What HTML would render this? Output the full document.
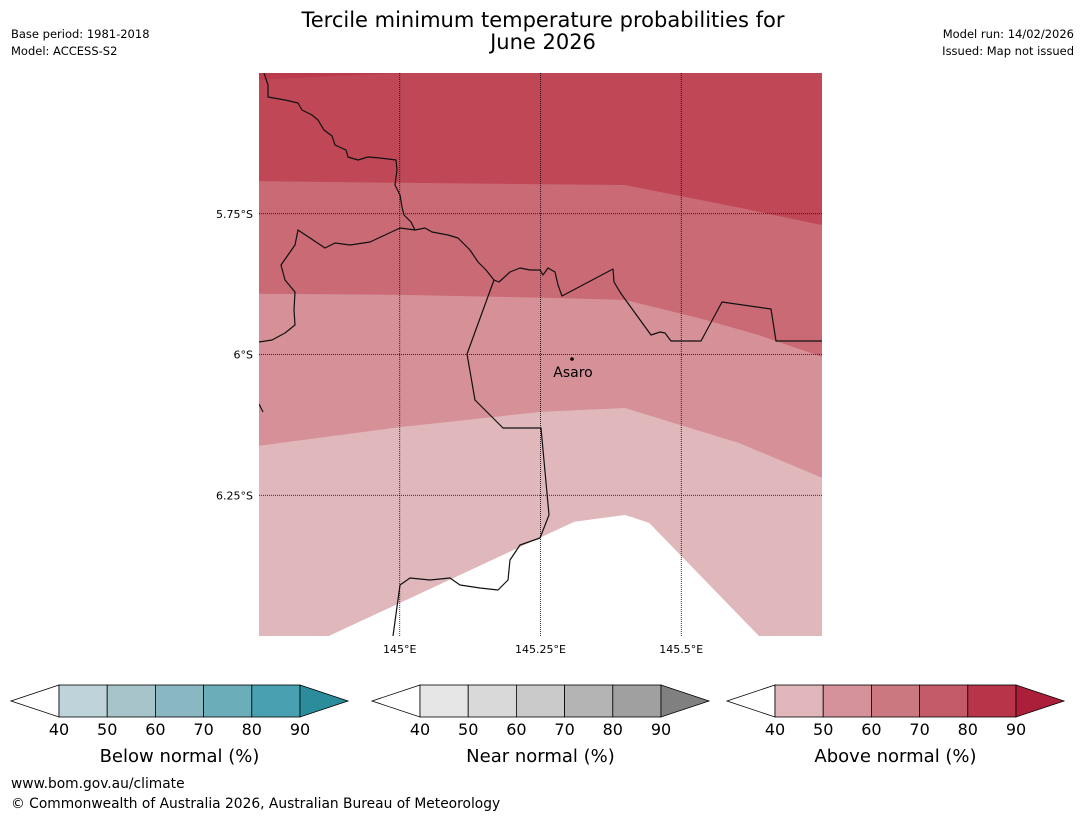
<!DOCTYPE html>
<html><head><meta charset="utf-8"><style>
body{margin:0;background:#fff;font-family:"Liberation Sans","DejaVu Sans",sans-serif;}
svg{display:block}
</style></head><body>
<svg id="chart" width="1085" height="816" viewBox="0 0 1085 816" xmlns="http://www.w3.org/2000/svg" font-family="DejaVu Sans, Liberation Sans, sans-serif">
<text x="543" y="27" text-anchor="middle" font-size="21">Tercile minimum temperature probabilities for</text>
<text x="543" y="49" text-anchor="middle" font-size="21">June 2026</text>
<text x="11" y="38" font-size="11.5">Base period: 1981-2018</text>
<text x="11" y="55" font-size="11.5">Model: ACCESS-S2</text>
<text x="1074" y="38" font-size="11.5" text-anchor="end">Model run: 14/02/2026</text>
<text x="1074" y="55" font-size="11.5" text-anchor="end">Issued: Map not issued</text>
<defs><clipPath id="mapclip"><rect x="259" y="73" width="563" height="563"/></clipPath></defs>
<g id="map" clip-path="url(#mapclip)"></g>
<g id="grid"></g>
<g id="bars"></g>
<text x="11" y="788" font-size="13.8">www.bom.gov.au/climate</text>
<text x="11" y="808" font-size="13.8">© Commonwealth of Australia 2026, Australian Bureau of Meteorology</text>
</svg>
<script>
// Map extent
const lonMin = 144.75, lonMax = 145.75, latTop = -5.5, latBot = -6.5;
const lonTicks = [145, 145.25, 145.5];
const lonTickLabels = ["145°E", "145.25°E", "145.5°E"];
const latTicks = [-5.75, -6, -6.25];
const latTickLabels = ["5.75°S", "6°S", "6.25°S"];
// Contour boundaries (lon, lat)
const b80Lon = [144.75, 145.0, 145.4, 145.602, 145.75];
const b80Lat = [-5.692, -5.695, -5.699, -5.739, -5.770];
const b70Lon = [144.75, 145.0, 145.25, 145.4, 145.53, 145.636, 145.75];
const b70Lat = [-5.892, -5.894, -5.899, -5.903, -5.935, -5.965, -6.004];
const b60Lon = [144.75, 145.0, 145.25, 145.4, 145.602, 145.75];
const b60Lat = [-6.162, -6.129, -6.102, -6.095, -6.157, -6.219];
const b50Lon = [144.874, 145.31, 145.4, 145.443, 145.638];
const b50Lat = [-6.5, -6.297, -6.285, -6.299, -6.5];
const b90Lon = [144.75, 145.0];
const b90Lat = [-5.512, -5.5];
const bandColors = ["#e0b8bc", "#d69097", "#c96a74", "#bf4756", "#bb3a4b"];
const sx = lon => 259 + (lon - lonMin) / (lonMax - lonMin) * 563;
const sy = lat => 73 + (latTop - lat) / (latTop - latBot) * 563;
const NS = "http://www.w3.org/2000/svg";
function mk(tag, attrs, parent){const e=document.createElementNS(NS,tag);for(const k in attrs)e.setAttribute(k,attrs[k]);parent.appendChild(e);return e;}
const map = document.getElementById('map');
function line(lons, lats){return lons.map((l,i)=>sx(l)+','+sy(lats[i])).join(' ');}
let bg = mk('rect',{x:259,y:73,width:563,height:563,fill:'#fff'},map);


let p = mk('polygon',{points:`259,73 822,73 822,636 ${line(b50Lon.slice().reverse(), b50Lat.slice().reverse())} 259,636`,fill:bandColors[0]},map);


const bounds = [[b60Lon,b60Lat],[b70Lon,b70Lat],[b80Lon,b80Lat],[b90Lon,b90Lat]];
const names = ['band-50-60','band-60-70','band-70-80','band-80-90'];
bounds.forEach((b,i)=>{
  let pts2;
  if(i===3) pts2 = `259,73 ${line(b[0], b[1])}`;
  else pts2 = `259,73 822,73 ` + line(b[0].slice().reverse(), b[1].slice().reverse());
  const el = mk('polygon',{points:pts2,fill:bandColors[i+1]},map);
  
  
});
const borderPaths = [
 "264,73 268,85 268,97 285,100 298,103 302,110 312,115 318,120 324,130 332,136 335,145 346,150 348,157 358,160 368,157 380,158 396,160 397,170 395,185 400,195 402,207 404,215 411,222 415,230 425,228 432,232 448,235 458,238 470,250 478,262 486,270 494,280 499,282 510,272 520,268 530,270 540,270 543,275 548,268 555,272 558,285 562,296 613,269 614,282 620,292 622,295 651,335 660,332 665,333 671,341 701,341 722,302 771,309 776,341 822,341",
 "415,230 400,228 385,235 370,242 350,245 335,243 325,248 310,238 298,230 295,245 288,255 281,265 285,280 295,292 294,310 295,325 285,333 272,340 259,342",
 "494,280 467,354 475,400 503,428 541,428 549,515 540,538 520,545 510,560 508,580 498,590 480,588 460,585 450,578 430,580 410,578 400,585 393,636",
 "259,404 263,412"];
borderPaths.forEach((d,i)=>{
  const el = mk('polyline',{points:d,fill:'none',stroke:'#111','stroke-width':1.2,'stroke-linejoin':'round'},map);
  
  
});
const grid = document.getElementById('grid');
lonTicks.forEach((l,i)=>{
  const g = mk('line',{x1:sx(l),x2:sx(l),y1:73,y2:636,stroke:'#000','stroke-width':0.8,'stroke-dasharray':'1,1'},grid);
  
  
  const t = mk('text',{x:sx(l),y:653,'text-anchor':'middle','font-size':11},grid);
  t.textContent = lonTickLabels[i];
  
  
});
latTicks.forEach((l,i)=>{
  const g = mk('line',{x1:259,x2:822,y1:sy(l),y2:sy(l),stroke:'#000','stroke-width':0.8,'stroke-dasharray':'1,1'},grid);
  
  
  const t = mk('text',{x:253,y:sy(l)+4,'text-anchor':'end','font-size':11},grid);
  t.textContent = latTickLabels[i];
  
  
});
const dot = mk('circle',{cx:572,cy:359,r:1.8,fill:'#000'},grid);


const at = mk('text',{x:573,y:377,'text-anchor':'middle','font-size':14},grid);
at.textContent='Asaro';


const cbTicks = ["40","50","60","70","80","90"];
const cbTitles = ["Below normal (%)","Near normal (%)","Above normal (%)"];
const cbColors = [
 ["#bfd4da","#a6c4c9","#89b7c2","#6badb8","#49a0b0","#2b8c9c"],
 ["#e6e6e6","#d9d9d9","#cacaca","#b4b4b4","#a0a0a0","#808080"],
 ["#e1b6bb","#d6929a","#cc7880","#c35a68","#b83449","#ab1f3a"]];
const cbX = [59, 420, 775];
const bars = document.getElementById('bars');
cbX.forEach((x0,b)=>{
  const g = mk('g',{},bars);
  
  
  const w = 48.2, y0=685, h=32;
  const lt = mk('polygon',{points:`${x0},${y0} ${x0-48},${y0+h/2} ${x0},${y0+h}`,fill:'#fff',stroke:'#000','stroke-width':0.8},g);
  
  
  for(let i=0;i<5;i++){
    const r = mk('rect',{x:x0+i*w,y:y0,width:w,height:h,fill:cbColors[b][i],stroke:'#000','stroke-width':0.8},g);
    
    
  }
  const xe = x0+5*w;
  const rt = mk('polygon',{points:`${xe},${y0} ${xe+48},${y0+h/2} ${xe},${y0+h}`,fill:cbColors[b][5],stroke:'#000','stroke-width':0.8},g);
  
  
  cbTicks.forEach((t,i)=>{
    const tx = mk('text',{x:x0+i*w,y:735,'text-anchor':'middle','font-size':16},g);
    tx.textContent=t;
    
    
  });
  const tt = mk('text',{x:x0+2.5*w,y:762,'text-anchor':'middle','font-size':18},g);
  tt.textContent=cbTitles[b];
  
  
});
</script>
</body></html>
